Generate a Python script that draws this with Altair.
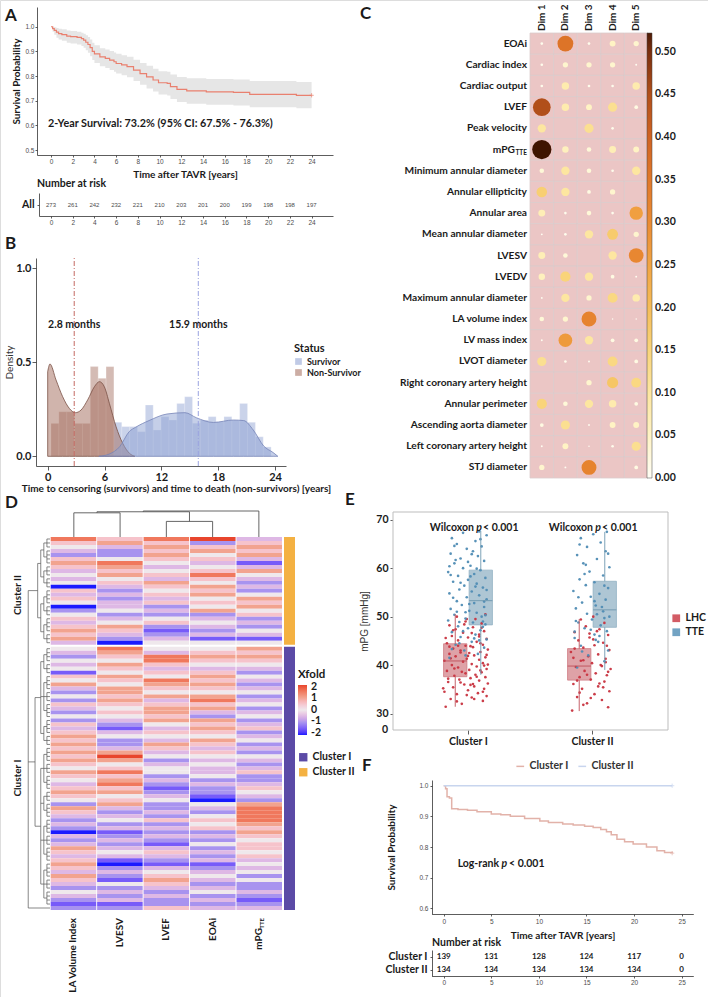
import altair as alt
import pandas as pd

W, H = 708, 997
BOLD = "Lato"
PLAIN = "Liberation Sans"
INK = "#1a1a1a"
GREY = "#4d4d4d"

# ------------------------------------------------------------------ data
# A: overall survival after TAVR (Kaplan-Meier estimate with 95% CI)
A_T = [0, 0.15, 0.3, 0.5, 0.7, 1.0, 1.45, 1.8, 2.4, 2.8, 3.0, 3.2, 3.4, 3.6, 3.8, 4.0, 4.5, 5.0, 5.4,
       5.8, 6.0, 6.5, 7.0, 7.6, 8.2, 8.8, 9.4, 9.9, 10.7, 11.0, 11.6, 12.5, 14.3, 16.8, 18.3, 22.6, 24.0]
A_S = [1.0, 0.992, 0.985, 0.978, 0.972, 0.968, 0.962, 0.96, 0.957, 0.952, 0.946, 0.937, 0.928, 0.915,
       0.90, 0.89, 0.878, 0.872, 0.865, 0.858, 0.851, 0.845, 0.838, 0.824, 0.81, 0.797, 0.784, 0.773,
       0.77, 0.757, 0.746, 0.74, 0.736, 0.734, 0.726, 0.722, 0.722]
A_LO = [1.0, 0.98, 0.968, 0.955, 0.948, 0.943, 0.935, 0.932, 0.928, 0.922, 0.915, 0.905, 0.895, 0.88,
        0.865, 0.853, 0.84, 0.833, 0.825, 0.818, 0.81, 0.803, 0.795, 0.78, 0.765, 0.75, 0.737, 0.725,
        0.721, 0.707, 0.695, 0.688, 0.684, 0.681, 0.674, 0.67, 0.67]
A_HI = [1.0, 1.0, 0.998, 0.995, 0.992, 0.99, 0.985, 0.983, 0.98, 0.976, 0.972, 0.965, 0.958, 0.948,
        0.935, 0.925, 0.913, 0.908, 0.902, 0.896, 0.89, 0.884, 0.878, 0.866, 0.853, 0.842, 0.83, 0.82,
        0.818, 0.806, 0.796, 0.791, 0.788, 0.786, 0.78, 0.776, 0.776]
A_TICKS = [0, 2, 4, 6, 8, 10, 12, 14, 16, 18, 20, 22, 24]
A_RISK = [273, 261, 242, 232, 221, 210, 203, 201, 200, 199, 198, 198, 197]

# B: follow-up time histograms and densities by status
B_STATUS = ["Survivor", "Non-Survivor"]
B_NS_EDGES = [0.35, 1.18, 2.01, 2.84, 3.67, 4.5, 5.33, 6.16, 6.99]
B_NS_H = [0.175, 0.237, 0.237, 0.175, 0.175, 0.477, 0.415, 0.477]
B_S_EDGES = [6.99, 7.82, 8.65, 9.48, 10.31, 11.14, 11.97, 12.8, 13.63, 14.46, 15.29, 16.12, 16.95,
             17.78, 18.61, 19.44, 20.27, 21.1, 21.93, 22.76, 23.59]
B_S_H = [0.181, 0.158, 0.158, 0.131, 0.273, 0.14, 0.211, 0.193, 0.281, 0.317, 0.176, 0.193, 0.211,
         0.184, 0.211, 0.193, 0.281, 0.181, 0.104, 0.05]
B_NS_DT = [0.0, 0.24, 0.88, 1.58, 2.28, 2.92, 3.52, 4.22, 4.93, 5.46, 5.98, 6.51, 7.22, 7.92, 8.63, 9.2]
B_NS_DV = [0.45, 0.491, 0.406, 0.317, 0.255, 0.232, 0.246, 0.30, 0.37, 0.397, 0.37, 0.282, 0.157,
           0.069, 0.016, 0.0]
B_S_DT = [5.4, 6.5, 7.6, 8.6, 9.3, 10.7, 12.6, 14.5, 15.7, 17.5, 19.6, 20.7, 21.7, 22.8, 23.8, 24.3]
B_S_DV = [0.0, 0.012, 0.051, 0.131, 0.155, 0.19, 0.225, 0.232, 0.205, 0.18, 0.193, 0.19, 0.14, 0.055,
          0.02, 0.0]
B_MEDIAN = [2.8, 15.9]
B_MEDIAN_STATUS = ["Non-Survivor", "Survivor"]
B_MEDIAN_LABEL = ["2.8 months", "15.9 months"]

# C: variable contributions to the first five dimensions
C_DIMS = ["Dim 1", "Dim 2", "Dim 3", "Dim 4", "Dim 5"]
C_ROWS = ["EOAi", "Cardiac index", "Cardiac output", "LVEF", "Peak velocity", "mPG_TTE",
          "Minimum annular diameter", "Annular ellipticity", "Annular area", "Mean annular diameter",
          "LVESV", "LVEDV", "Maximum annular diameter", "LA volume index", "LV mass index",
          "LVOT diameter", "Right coronary artery height", "Annular perimeter",
          "Ascending aorta diameter", "Left coronary artery height", "STJ diameter"]
DIM1 = [0.01, 0.01, 0.01, 0.45, 0.10, 0.53, 0.03, 0.16, 0.07, 0.005, 0.07, 0.06, 0.005, 0.03, 0.005,
        0.12, 0.0, 0.15, 0.02, 0.005, 0.04]
DIM2 = [0.36, 0.04, 0.08, 0.08, 0.0, 0.06, 0.10, 0.10, 0.01, 0.01, 0.03, 0.15, 0.10, 0.04, 0.27,
        0.01, 0.0, 0.03, 0.12, 0.05, 0.005]
DIM3 = [0.01, 0.04, 0.01, 0.05, 0.12, 0.03, 0.03, 0.02, 0.03, 0.10, 0.0, 0.10, 0.04, 0.32, 0.10,
        0.005, 0.04, 0.10, 0.005, 0.003, 0.32]
DIM4 = [0.05, 0.04, 0.01, 0.12, 0.01, 0.07, 0.01, 0.04, 0.01, 0.17, 0.10, 0.02, 0.14, 0.003, 0.02,
        0.14, 0.18, 0.08, 0.05, 0.01, 0.0]
DIM5 = [0.04, 0.005, 0.08, 0.02, 0.0, 0.05, 0.10, 0.0, 0.26, 0.04, 0.31, 0.005, 0.08, 0.003, 0.02,
        0.02, 0.14, 0.02, 0.05, 0.12, 0.02]
C_TICKS = [0.0, 0.05, 0.10, 0.15, 0.20, 0.25, 0.30, 0.35, 0.40, 0.45, 0.50]
C_MAX = 0.522

# D: scaled values (Xfold) per patient, ordered by hierarchical clustering
D_COLS = ["LA Volume Index", "LVESV", "LVEF", "EOAi", "mPG_TTE"]
D_CLUSTERS = ["Cluster I", "Cluster II"]
D_LA_II = [1.5, 0.5, 0, -0.5, -1, 0.5, 1, 0.5, -0.5, 0, -0.5, 0, -2, 0.5, -0.5, 0.5, 0, -2, -1, 0,
           0.5, -0.5, 0.5, 1, 0.5, 1, -0.5]
D_LVESV_II = [0.5, 1, -0.5, -1, -1, 0, 1.5, 1, 0.5, 1, 0, 0.5, -0.5, -1, -0.5, -1, -0.5, -0.5, 0, -1,
              -0.5, 0, 1, 0.5, -0.5, -1, -2]
D_LVEF_II = [1.5, 0.5, 1, 0.5, 1, 0.5, 0, -0.5, 0, 0.5, -0.5, 1, 0.5, 0, 0.5, -0.5, 0.5, -1, -0.5, -1,
             0, 0.5, -1, -1.5, -1, -0.5, 0]
D_EOAI_II = [2, -1, 0.5, 1, 0, 0.5, -0.5, 0, 0.5, 1.5, 0.5, 0, 1, 0.5, 1, 0, 0.5, 0, 1, -1, -0.5, 0,
             -0.5, -1, -0.5, -1.5, 0]
D_MPG_II = [-0.5, 0.5, 1, 0.5, 1, -0.5, -1.5, -0.5, 1, 0, -0.5, -1, -0.5, -1, 0, 1, 0.5, 1, 0, 0.5,
            -1, -0.5, -1, 0, -0.5, -1.5, 0]
D_LA_I = [0, -0.5, -1, 0, -0.5, 0, -1.5, 0.5, 0, 1, -0.5, -1, 0, -1, 0.5, -0.5, -1, 0, -1, 0.5, -0.5,
          0.5, 1, 0.5, 1, 0.5, 1, 0.5, 1, 0.5, 0,
          1, 0.5, 0, -0.5, 0.5, 1, 0.5, 0, -1, 1, 0.5, -0.5, -1, -0.5, -1, -2, -0.5, -1, -0.5, 1, 0.5,
          -0.5, 0.5, 1, 0.5, -0.5, 1, 0.5, -0.5, -1, 0, -0.5, -1, -1.5, -1]
D_LVESV_I = [1.5, 1, 0.5, 0, 1, 0.5, 0, 1, 0.5, 0, 1, 1, 0.5, 1, 0.5, 0, 0.5, 0, -0.5, -1, -1.5, -0.5,
             0, -1, -1, -0.5, 1, 2, 1, 0, 0.5,
             1.5, 0.5, 1, 1.5, 0.5, 1, 0, 0.5, 1, -0.5, -1, -0.5, 0, -1, -0.5, -1.5, -1, -0.5, -1, -0.5,
             0, -0.5, -1.5, -2, -1, -0.5, -1, -1.5, 0, -1, -0.5, -1, -0.5, -1.5, -1]
D_LVEF_I = [0, -0.5, 1.5, 1.5, 0.5, -0.5, 0.5, 0, 1.5, 1, 0.5, 0, 1, -0.5, 0.5, 1, 1, 0.5, 1, 0, -0.5,
            0.5, 0, -0.5, 1, 0.5, -0.5, 0, -1, -0.5, 0,
            0, -1, -0.5, -1, -1.5, -1, -0.5, 0, -1, -1, -0.5, -1, 0.5, -1, -0.5, -1, -0.5, -1, -1.5,
            -0.5, 0.5, -0.5, -1, -1.5, -0.5, 0, 0.5, 1, 0.5, -0.5, -1, -0.5, -1, -1, 0.5]
D_EOAI_I = [0, 0.5, 1, 0.5, 0, -0.5, 0.5, 1, 0.5, 1, 0.5, 0, 1, 1.5, 0.5, 1, -0.5, -1, 1, 0.5, 1, 0.5,
            0, 1, 0.5, -0.5, 0.5, 0, -0.5, 0, -0.5,
            -0.5, 0, -1, -0.5, -1, -1, -1.5, -2, 0, -0.5, -1, 0, 0.5, 0, 0.5, -1, -0.5, -1, 0, -1,
            -0.5, -1, -0.5, -1.5, -1, -0.5, 0, -0.5, -1, -0.5, 0, -1, -0.5, -1, -0.5]
D_MPG_I = [1, 0.5, 1, 0.5, 0, -0.5, -1, 0, -0.5, -1, -0.5, 0, -1, -0.5, 0, -1, -0.5, 0, -1, -0.5, 0.5,
           -1, -0.5, 0, -1, -0.5, -1, 0, -0.5, -1, -0.5,
           0.5, -1, -1, -0.5, 0.5, 0, -0.5, -1, 1, 1.5, 1.5, 1.5, 1.5, 1, 0.5, 1, 0.5, 0, 0.5, 0.5, 0,
           0.5, -0.5, 0, -0.5, 0, -1, 0, -1, -1, -0.5, -1, -1.5, -1, -0.5]
D_TICKS = [2, 1, 0, -1, -2]
# column dendrogram: (children, merge height); leaves 0..4 follow D_COLS
D_COL_MERGES = [([2, 3], 0.6), ([0, 1], 0.93), ([6, 5], 0.97), ([7, 4], 1.0)]
# row dendrogram: leaf group sizes per level and merge heights
D_II_LEVELS = [[3, 4, 3, 3, 4, 3, 4, 3], [2, 2, 2, 2], [2, 2], [2]]
D_I_LEVELS = [[4, 3, 4, 3, 4, 4, 3, 4, 3, 4, 3, 4, 4, 3, 4, 4, 3, 4], [2, 3, 2, 3, 2, 3, 3], [3, 4], [2]]
D_II_HEIGHTS = [1.4, 2.8, 4.2, 5.6]
D_I_HEIGHTS = [1.4, 2.8, 4.2, 6.8]
D_ROOT_H = 9.9

# E: mean pressure gradient, catheter (LHC) vs echo (TTE); (jitter, mmHg)
E_CLUSTERS = ["Cluster I", "Cluster II"]
E_GROUPS = ["LHC", "TTE"]
E1_LHC = [(-18, 31.4), (-5, 32.0), (12, 32.6), (-14, 33.0), (3, 33.3), (15, 33.6), (-9, 34.0), (8, 34.2),
          (-19, 34.5), (0, 34.8), (13, 35.1), (-12, 35.4), (5, 35.6), (-3, 36.0), (16, 36.2),
          (-16, 36.5), (9, 36.8), (-7, 37.0), (2, 37.3), (14, 37.5), (-11, 37.8), (6, 38.0), (-2, 38.3),
          (11, 38.5), (-17, 38.8), (1, 39.0), (15, 39.2), (-8, 39.5), (7, 39.7), (-13, 40.0), (3, 40.2),
          (12, 40.4), (-4, 40.7), (-19, 40.9), (9, 41.1), (-1, 41.3), (14, 41.6), (-10, 41.8), (5, 42.0),
          (-15, 42.3), (1, 42.5), (10, 42.7), (-6, 43.0), (16, 43.2), (-12, 43.4), (4, 43.7), (-2, 44.0),
          (12, 44.2), (-17, 44.5), (7, 44.8), (-8, 45.1), (15, 45.4), (0, 45.7), (-13, 46.0), (9, 46.3),
          (-4, 46.7), (13, 47.0), (-10, 47.4), (4, 47.8), (-15, 48.2), (11, 48.6), (-2, 49.0), (6, 49.5),
          (-9, 50.0), (14, 50.5), (-6, 36.4), (10, 38.9), (-14, 41.4), (2, 43.9), (-1, 33.8),
          (-20, 35.2), (4, 36.1), (-11, 39.3), (16, 40.1), (-6, 42.6), (10, 44.5), (-18, 45.6), (3, 46.6),
          (-3, 48.4), (12, 34.5), (-9, 32.5), (7, 37.6), (-15, 43.8), (0, 41.9), (13, 39.9), (-5, 38.6),
          (9, 45.9), (-12, 47.2), (5, 33.0), (-1, 49.5), (15, 42.1), (-8, 44.0), (2, 35.9), (-16, 37.2),
          (11, 47.7)]
E1_TTE = [(-15, 41.5), (8, 42.3), (-3, 43.0), (13, 43.6), (-10, 44.2), (3, 44.8), (15, 45.3), (-6, 45.8),
          (6, 46.3), (-13, 46.8), (10, 47.2), (0, 47.6), (-8, 48.0), (14, 48.4), (4, 48.8), (-16, 49.2),
          (-2, 49.6), (11, 50.0), (-11, 50.4), (7, 50.8), (1, 51.2), (-14, 51.6), (13, 52.0), (-5, 52.4),
          (5, 52.8), (-9, 53.2), (15, 53.6), (-1, 54.0), (9, 54.4), (-15, 54.8), (3, 55.2), (-7, 55.6),
          (12, 56.0), (-3, 56.4), (7, 56.8), (-12, 57.2), (0, 57.6), (14, 58.0), (-8, 58.4), (5, 58.8),
          (-16, 59.2), (10, 59.6), (-4, 60.0), (2, 60.5), (-11, 61.0), (13, 61.5), (-6, 62.0), (8, 62.5),
          (-14, 63.0), (4, 63.5), (-1, 64.0), (11, 64.5), (-9, 65.0), (6, 65.6), (-13, 66.2), (15, 66.8),
          (-4, 67.3), (9, 67.6), (-7, 44.5), (12, 47.9), (-12, 53.9), (2, 58.3), (-10, 61.7), (14, 50.3),
          (-2, 42.0),
          (-13, 43.3), (5, 45.5), (-4, 47.0), (12, 49.0), (-9, 51.0), (1, 52.6), (15, 55.5), (-6, 57.0),
          (7, 59.9), (-15, 60.4), (3, 62.9), (-11, 64.6), (10, 66.0), (-2, 50.9), (13, 53.1), (-7, 48.9),
          (6, 56.2), (-14, 58.6), (0, 61.3), (9, 45.1)]
E2_LHC = [(-16, 30.6), (13, 31.3), (-4, 32.1), (8, 32.8), (-12, 33.4), (2, 34.0), (14, 34.6), (-8, 35.1),
          (5, 35.6), (-15, 36.1), (10, 36.6), (-1, 37.0), (-10, 37.5), (12, 37.9), (3, 38.3), (-6, 38.8),
          (15, 39.2), (-13, 39.6), (7, 40.0), (0, 40.4), (-9, 40.9), (11, 41.3), (-3, 41.8), (5, 42.2),
          (-17, 42.7), (14, 43.1), (-7, 43.6), (2, 44.1), (9, 44.6), (-11, 45.1), (-2, 45.7), (13, 46.2),
          (-14, 46.8), (6, 47.4), (-5, 48.0), (10, 48.7), (-9, 49.4), (1, 50.0), (-12, 36.8), (8, 39.8),
          (-1, 33.2), (12, 44.0), (-15, 41.5), (4, 47.0), (-7, 31.8),
          (-10, 34.3), (6, 36.2), (-4, 38.0), (11, 40.6), (-14, 43.4), (1, 45.3), (9, 35.4), (-7, 41.0),
          (13, 38.6), (-2, 46.5)]
E2_TTE = [(-12, 39.5), (10, 40.8), (-3, 42.0), (13, 43.0), (-9, 44.0), (5, 44.8), (-14, 45.6), (2, 46.3),
          (12, 47.0), (-6, 47.6), (7, 48.2), (-11, 48.8), (0, 49.4), (14, 50.0), (-4, 50.6), (9, 51.1),
          (-13, 51.7), (3, 52.3), (-8, 52.9), (11, 53.5), (-1, 54.1), (6, 54.7), (-15, 55.3), (13, 55.9),
          (-5, 56.5), (2, 57.1), (-10, 57.7), (9, 58.5), (-2, 59.3), (14, 60.2), (-7, 61.0), (4, 61.9),
          (-12, 62.7), (11, 63.5), (-4, 64.4), (7, 65.3), (-9, 66.2), (1, 67.0), (12, 67.5), (-14, 46.9),
          (8, 52.0), (-6, 58.8), (3, 45.2), (-11, 54.0), (10, 49.7),
          (-8, 42.8), (6, 46.0), (-13, 49.1), (2, 53.2), (10, 56.4), (-5, 60.7), (13, 63.0), (-10, 64.9),
          (4, 50.5), (-1, 47.3)]
# box statistics: cluster, group, lower whisker, q1, median, q3, upper whisker
E_BOX = [(1, "LHC", 31.4, 37.6, 40.85, 44.4, 50.5), (1, "TTE", 38.0, 48.3, 53.3, 59.6, 67.7),
         (2, "LHC", 30.5, 36.9, 39.8, 43.4, 49.5), (2, "TTE", 39.0, 47.8, 51.4, 57.3, 67.5)]
E_YTICKS = [30, 40, 50, 60, 70]

# F: survival by cluster
F_T1 = [0, 0.2, 0.35, 0.6, 0.84, 1.5, 2.5, 3.5, 5.0, 6.0, 7.0, 8.5, 10.1, 11.0, 12.5, 13.6, 14.8, 15.7,
        16.5, 17.1, 17.6, 18.2, 19.0, 19.9, 21.3, 22.4, 23.2, 24.0]
F_S1 = [1.0, 0.99, 0.964, 0.96, 0.925, 0.922, 0.92, 0.915, 0.908, 0.905, 0.90, 0.893, 0.885, 0.88,
        0.875, 0.872, 0.868, 0.864, 0.857, 0.85, 0.84, 0.825, 0.817, 0.81, 0.80, 0.788, 0.782, 0.78]
F_T2 = [0, 24.0]
F_S2 = [1.0, 1.0]
F_TICKS = [0, 5, 10, 15, 20, 25]
F_RISK_I = [139, 131, 128, 124, 117, 0]
F_RISK_II = [134, 134, 134, 134, 134, 0]


# ------------------------------------------------------------------ helpers
def lin(lo, hi, r0, r1):
    return alt.Scale(domain=[lo, hi], range=[r0, r1], nice=False, zero=False)


def band(domain, r0, r1, inner=0.0, outer=0.0):
    return alt.Scale(type="band", domain=domain, range=[r0, r1], paddingInner=inner, paddingOuter=outer)


AXIS_BASE = dict(grid=False, labelFlush=False, labelOverlap=False, domainColor="#333333",
                 tickColor="#333333", domainWidth=0.8, tickWidth=0.8)


def left_axis(x_px, **kw):
    opts = dict(AXIS_BASE, orient="left", offset=-x_px)
    opts.update(kw)
    return alt.Axis(**opts)


def bottom_axis(y_px, **kw):
    opts = dict(AXIS_BASE, orient="bottom", offset=y_px - H)
    opts.update(kw)
    return alt.Axis(**opts)


def ticks(size=6.5, color=GREY, font=PLAIN, weight="normal"):
    return dict(labelFont=font, labelFontSize=size, labelColor=color, labelFontWeight=weight)


def titled(text, size=10, font=BOLD, weight="bold", color=INK, pad=4):
    return dict(title=text, titleFont=font, titleFontSize=size, titleFontWeight=weight,
                titleColor=color, titlePadding=pad)


ONE = pd.DataFrame({"k": [0]})


def note(text, x, y, size=10, align="left", angle=0, weight="bold", style="normal", color=INK,
         font=BOLD, baseline="alphabetic"):
    return alt.Chart(ONE).mark_text(
        text=text, align=align, baseline=baseline, angle=angle, fontSize=size, fontWeight=weight,
        fontStyle=style, color=color, font=font).encode(x=alt.value(x), y=alt.value(y))


def legend(x, y, **kw):
    opts = dict(orient="none", legendX=x, legendY=y, labelFont=BOLD, labelFontWeight="bold",
                labelColor=INK, titleFont=BOLD, titleFontWeight="bold", titleColor=INK)
    opts.update(kw)
    return alt.Legend(**opts)


def bar_labels(values, labels, scale, x):
    df = pd.DataFrame({"v": values, "lab": labels})
    return alt.Chart(df).mark_text(align="left", baseline="middle", font=BOLD, fontWeight="bold",
                                   fontSize=10.5, color=INK).encode(
        x=alt.value(x), y=alt.Y("v:Q", scale=scale, axis=None), text="lab:N")


L = []

# ------------------------------------------------------------------ A
AX = lin(-1.29, 25.97, 37, 333)
AY = lin(0.48, 1.08, 155, 7)
a_df = pd.DataFrame({"t": A_T, "s": A_S, "lo": A_LO, "hi": A_HI})
L.append(alt.Chart(a_df).mark_area(interpolate="step-after", color="#e6e6e6").encode(
    x=alt.X("t:Q", scale=AX, axis=bottom_axis(155, values=A_TICKS, tickSize=2, labelPadding=1,
                                              **ticks(), **titled("Time after TAVR [years]", pad=5))),
    y=alt.Y("lo:Q", scale=AY, axis=left_axis(37, values=[0.5, 0.6, 0.7, 0.8, 0.9, 1.0], format=".1f",
                                             tickSize=2, labelPadding=1, **ticks(),
                                             **titled("Survival Probability", pad=3))),
    y2="hi:Q"))
L.append(alt.Chart(a_df).mark_line(interpolate="step-after", color="#e9806f", strokeWidth=1.2).encode(
    x=alt.X("t:Q", scale=AX, axis=None), y=alt.Y("s:Q", scale=AY, axis=None)))
L.append(alt.Chart(a_df.tail(1)).mark_point(shape="M-1,0L1,0M0,-1L0,1", size=18, color="#e9806f",
                                            strokeWidth=1).encode(
    x=alt.X("t:Q", scale=AX, axis=None), y=alt.Y("s:Q", scale=AY, axis=None)))
L.append(note("2-Year Survival: 73.2% (95% CI: 67.5% - 76.3%)", 48, 127, size=10.8))
L.append(note("A", 5, 21, size=17))

# A: number at risk
ATX = lin(-1.105, 25.97, 39, 333)
ATY = alt.Scale(type="point", domain=["All"], range=[193, 216], padding=0.5)
risk_a = pd.DataFrame({"t": A_TICKS, "n": A_RISK, "row": "All"})
L.append(alt.Chart(risk_a).mark_text(font=PLAIN, fontSize=6, color=GREY, baseline="middle").encode(
    x=alt.X("t:Q", scale=ATX, axis=bottom_axis(216, values=A_TICKS, tickSize=2, labelPadding=1,
                                               title=None, **ticks())),
    y=alt.Y("row:N", scale=ATY, axis=left_axis(39, tickSize=2, labelPadding=3, title=None,
                                               **ticks(size=10.5, color=INK, font=BOLD, weight="bold"))),
    text="n:Q"))
L.append(note("Number at risk", 37, 187, size=10.5))

# ------------------------------------------------------------------ B
BXD, BYD = (-1.235, 25.16), (-0.0516, 1.0548)
BX = lin(BXD[0], BXD[1], 36, 286)
BY = lin(BYD[0], BYD[1], 466, 258)
B_FILL = alt.Scale(domain=B_STATUS, range=["#8c9fd2", "#a26a5a"])
B_LINE = alt.Scale(domain=B_STATUS, range=["#7684b8", "#7a5045"])
hist = pd.concat([
    pd.DataFrame({"x0": B_NS_EDGES[:-1], "x1": B_NS_EDGES[1:], "h": B_NS_H, "status": "Non-Survivor"}),
    pd.DataFrame({"x0": B_S_EDGES[:-1], "x1": B_S_EDGES[1:], "h": B_S_H, "status": "Survivor"})])
dens = pd.concat([
    pd.DataFrame({"t": B_NS_DT, "v": B_NS_DV, "status": "Non-Survivor"}),
    pd.DataFrame({"t": B_S_DT, "v": B_S_DV, "status": "Survivor"})])
meds = pd.DataFrame({"m": B_MEDIAN, "status": B_MEDIAN_STATUS, "label": B_MEDIAN_LABEL})

L.append(alt.Chart(hist).mark_rect(opacity=0.45, stroke="white", strokeWidth=0.4, strokeOpacity=0.6).encode(
    x=alt.X("x0:Q", scale=BX, axis=bottom_axis(466, values=[0, 6, 12, 18, 24], tickSize=4, labelPadding=1,
                                               **ticks(size=11, color=INK, font=BOLD, weight="bold"),
                                               **titled("Time to censoring (survivors) and time to death "
                                                        "(non-survivors) [years]", size=10, pad=1),
                                               titleX=176)),
    x2="x1:Q",
    y=alt.Y("h:Q", scale=BY, axis=left_axis(36, values=[0.0, 0.5, 1.0], format=".1f", tickSize=4,
                                            labelPadding=1,
                                            **ticks(size=11, color=INK, font=BOLD, weight="bold"),
                                            **titled("Density", size=10, weight="normal", font=BOLD,
                                                     color="#333333", pad=1))),
    y2=alt.Y2Datum(0),
    color=alt.Color("status:N", scale=B_FILL,
                    legend=legend(294, 343, title="Status", titleFontSize=11, labelFontSize=9,
                                  symbolType="square", symbolSize=45, symbolOpacity=0.55,
                                  symbolStrokeWidth=0, rowPadding=1, titlePadding=3))))
L.append(alt.Chart(dens).mark_area(interpolate="monotone", fillOpacity=0.5, strokeWidth=0.8).encode(
    x=alt.X("t:Q", scale=BX, axis=None), y=alt.Y("v:Q", scale=BY, axis=None), y2=alt.Y2Datum(0),
    fill=alt.Fill("status:N", scale=B_FILL, legend=None),
    stroke=alt.Stroke("status:N", scale=B_LINE, legend=None)))
L.append(alt.Chart(meds).mark_rule(strokeDash=[5, 2, 1, 2], strokeWidth=1).encode(
    x=alt.X("m:Q", scale=BX, axis=None), y=alt.YDatum(BYD[0], scale=BY, axis=None), y2=alt.Y2Datum(BYD[1]),
    color=alt.Color("status:N", scale=alt.Scale(domain=B_STATUS, range=["#9aa2e0", "#c46a62"]),
                    legend=None)))
L.append(alt.Chart(meds).mark_text(font=BOLD, fontWeight="bold", fontSize=10.5, color=INK).encode(
    x=alt.X("m:Q", scale=BX, axis=None), y=alt.value(325), text="label:N"))
L.append(note("B", 5, 249, size=17))

# ------------------------------------------------------------------ C
CX = band(C_DIMS, 530, 648)
CY = band(C_ROWS, 33, 478)
c_rows = []
for dim, vals in zip(C_DIMS, [DIM1, DIM2, DIM3, DIM4, DIM5]):
    for row, v in zip(C_ROWS, vals):
        c_rows.append((row, dim, v))
c_df = pd.DataFrame(c_rows, columns=["row", "dim", "v"])
C_COLOR = alt.Scale(domain=[0, 0.05, 0.10, 0.15, 0.20, 0.25, 0.30, 0.35, 0.40, 0.45, 0.50, C_MAX],
                    range=["#fffef6", "#fff3c4", "#fde6a0", "#f9d47a", "#f5bc58", "#f1a443", "#ea8b33",
                           "#e0782a", "#cf6322", "#b14f1a", "#7a2f0e", "#4e1b06"])
L.append(alt.Chart(c_df).mark_rect(fill="#ebc6c5", stroke="#dbcbcb", strokeWidth=0.8).encode(
    x=alt.X("dim:N", scale=CX, axis=None), y=alt.Y("row:N", scale=CY, axis=None)))
L.append(alt.Chart(c_df).mark_circle(opacity=1).encode(
    x=alt.X("dim:N", scale=CX, axis=None), y=alt.Y("row:N", scale=CY, axis=None),
    size=alt.Size("v:Q", scale=alt.Scale(domain=[0, 0.53], range=[0, 369]), legend=None),
    color=alt.Color("v:Q", scale=C_COLOR,
                    legend=legend(647, 33, direction="vertical", gradientLength=445, gradientThickness=5,
                                  values=C_TICKS, labelExpr="''", title=None,
                                  gradientStrokeColor="#444444", gradientStrokeWidth=0.5))))
# colour-bar labels
L.append(bar_labels(C_TICKS, ["%.2f" % v for v in C_TICKS], lin(0, C_MAX, 478, 33), 655))
c_lab = pd.DataFrame({"row": C_ROWS})
L.append(alt.Chart(c_lab).transform_filter("datum.row != 'mPG_TTE'").mark_text(
    align="right", baseline="middle", font=BOLD, fontWeight="bold", fontSize=10.2, color=INK).encode(
    x=alt.value(527), y=alt.Y("row:N", scale=CY, axis=None), text="row:N"))
c_mpg = pd.DataFrame({"row": ["mPG_TTE"], "main": ["mPG"], "sub": ["TTE"]})
L.append(alt.Chart(c_mpg).mark_text(align="right", baseline="middle", font=BOLD, fontWeight="bold",
                                    fontSize=10.2, color=INK).encode(
    x=alt.value(515), y=alt.Y("row:N", scale=CY, axis=None), text="main:N"))
L.append(alt.Chart(c_mpg).mark_text(align="right", baseline="middle", font=BOLD, fontWeight="bold",
                                    fontSize=6.5, color=INK, dy=3).encode(
    x=alt.value(527), y=alt.Y("row:N", scale=CY, axis=None), text="sub:N"))
L.append(alt.Chart(pd.DataFrame({"dim": C_DIMS})).mark_text(
    angle=270, align="left", baseline="middle", font=BOLD, fontWeight="bold", fontSize=10, color=INK).encode(
    x=alt.X("dim:N", scale=CX, axis=None), y=alt.value(31), text="dim:N"))
L.append(note("C", 360, 19, size=17))

# ------------------------------------------------------------------ D
GAP = 0.5
n2, n1 = len(D_LA_II), len(D_LA_I)
OFF = n2 + GAP
DY = lin(0, OFF + n1, 537, 910)
DX = band(D_COLS, 50.7, 282, inner=0.02)
heat = []
for col, v2, v1 in zip(D_COLS, [D_LA_II, D_LVESV_II, D_LVEF_II, D_EOAI_II, D_MPG_II],
                       [D_LA_I, D_LVESV_I, D_LVEF_I, D_EOAI_I, D_MPG_I]):
    for i, v in enumerate(v2):
        heat.append((col, i, i + 1, v))
    for j, v in enumerate(v1):
        heat.append((col, OFF + j, OFF + j + 1, v))
heat_df = pd.DataFrame(heat, columns=["col", "y0", "y1", "v"])
D_COLOR = alt.Scale(domain=[-2, -1, 0, 1, 2], range=["#1a1aff", "#a893ef", "#efe8ec", "#f2a38f", "#e8452d"])
L.append(alt.Chart(heat_df).mark_rect().encode(
    x=alt.X("col:N", scale=DX, axis=None), y=alt.Y("y0:Q", scale=DY, axis=None), y2="y1:Q",
    color=alt.Color("v:Q", scale=D_COLOR,
                    legend=legend(298, 685, title=None, direction="vertical", gradientLength=50,
                                  gradientThickness=9, values=D_TICKS, labelExpr="''"))))
L.append(note("Xfold", 298, 678, size=11.5))
L.append(bar_labels(D_TICKS, [str(v).replace("\u2212", "-") for v in D_TICKS], lin(-2, 2, 732.7, 686.7), 311))

ann = pd.DataFrame({"cluster": ["Cluster II", "Cluster I"], "y0": [0, OFF], "y1": [n2, OFF + n1]})
L.append(alt.Chart(ann).mark_rect().encode(
    x=alt.XDatum(0, scale=lin(0, 1, 284, 295), axis=None), x2=alt.X2Datum(1),
    y=alt.Y("y0:Q", scale=DY, axis=None), y2="y1:Q",
    color=alt.Color("cluster:N", scale=alt.Scale(domain=D_CLUSTERS, range=["#5b4aa6", "#f4b142"]),
                    legend=legend(298, 752, title=None, labelFontSize=10.5, symbolType="square",
                                  symbolSize=70, symbolStrokeWidth=0, rowPadding=4))))


def tree_segments(leaf_pos, merges):
    nodes = [(p, 0.0) for p in leaf_pos]
    segs = []
    for children, h in merges:
        ps = [nodes[c][0] for c in children]
        for c in children:
            p, hc = nodes[c]
            segs.append((p, p, hc, h))
        segs.append((min(ps), max(ps), h, h))
        nodes.append(((min(ps) + max(ps)) / 2, h))
    return segs


# column dendrogram
col_segs = pd.DataFrame(tree_segments([1, 2, 3, 4, 5], D_COL_MERGES), columns=["p0", "p1", "h0", "h1"])
L.append(alt.Chart(col_segs).mark_rule(color="#555555", strokeWidth=0.9).encode(
    x=alt.X("p0:Q", scale=lin(0.5, 5.5, 50.7, 282), axis=None), x2="p1:Q",
    y=alt.Y("h0:Q", scale=lin(0, 1, 537, 511), axis=None), y2="h1:Q"))

# row dendrogram
leaf_pos = [i + 0.5 for i in range(n2)] + [OFF + j + 0.5 for j in range(n1)]
row_merges = []
next_id = len(leaf_pos)


def add_levels(ids, levels, heights):
    global next_id
    for sizes, h in zip(levels, heights):
        new_ids, k = [], 0
        for s in sizes:
            row_merges.append((ids[k:k + s], h))
            new_ids.append(next_id)
            next_id += 1
            k += s
        ids = new_ids
    return ids[0]


top_ii = add_levels(list(range(n2)), D_II_LEVELS, D_II_HEIGHTS)
top_i = add_levels(list(range(n2, n2 + n1 - 1)), D_I_LEVELS, D_I_HEIGHTS)
row_merges.append(([top_ii, top_i, n2 + n1 - 1], D_ROOT_H))
row_segs = pd.DataFrame(tree_segments(leaf_pos, row_merges), columns=["p0", "p1", "h0", "h1"])
L.append(alt.Chart(row_segs).mark_rule(color="#555555", strokeWidth=0.7).encode(
    x=alt.X("h0:Q", scale=lin(0, 10, 50, 28), axis=None), x2="h1:Q",
    y=alt.Y("p0:Q", scale=DY, axis=None), y2="p1:Q"))

d_lab = pd.DataFrame({"col": D_COLS, "main": ["LA Volume Index", "LVESV", "LVEF", "EOAi", "mPG"]})
L.append(alt.Chart(d_lab).transform_filter("datum.col != 'mPG_TTE'").mark_text(
    angle=270, align="right", baseline="middle", font=BOLD, fontWeight="bold", fontSize=10, color=INK).encode(
    x=alt.X("col:N", scale=DX, axis=None), y=alt.value(918), text="main:N"))
d_mpg = pd.DataFrame({"col": ["mPG_TTE"], "main": ["mPG"], "sub": ["TTE"]})
L.append(alt.Chart(d_mpg).mark_text(angle=270, align="right", baseline="middle", font=BOLD,
                                    fontWeight="bold", fontSize=10, color=INK).encode(
    x=alt.X("col:N", scale=DX, axis=None), y=alt.value(928), text="main:N"))
L.append(alt.Chart(d_mpg).mark_text(angle=270, align="right", baseline="middle", font=BOLD,
                                    fontWeight="bold", fontSize=6, color=INK, dy=3).encode(
    x=alt.X("col:N", scale=DX, axis=None), y=alt.value(918), text="sub:N"))
L.append(note("Cluster II", 18, 595, size=10, angle=270, align="center", baseline="middle"))
L.append(note("Cluster I", 18, 778, size=10, angle=270, align="center", baseline="middle"))
L.append(note("D", 5, 508, size=17))

# ------------------------------------------------------------------ E
EXD, EYD = (0.395, 2.613), (26.6, 71.6)
EX = lin(EXD[0], EXD[1], 393, 668)
EY = lin(EYD[0], EYD[1], 730, 512)
DODGE, HALF = 0.103, 0.094
E_FILL = alt.Scale(domain=E_GROUPS, range=["#d3838a", "#94b3c6"])
E_EDGE = alt.Scale(domain=E_GROUPS, range=["#c0505a", "#6f98b0"])
E_DOT = alt.Scale(domain=E_GROUPS, range=["#c8333f", "#4f8cb4"])

box = pd.DataFrame(E_BOX, columns=["cluster", "group", "lo", "q1", "med", "q3", "hi"])
box["xc"] = box["cluster"] + box["group"].map({"LHC": -DODGE, "TTE": DODGE})
box["xa"] = box["xc"] - HALF
box["xb"] = box["xc"] + HALF

pts = []
for ci, grp, arr in [(1, "LHC", E1_LHC), (1, "TTE", E1_TTE), (2, "LHC", E2_LHC), (2, "TTE", E2_TTE)]:
    for dx, v in arr:
        pts.append((ci + dx / 100.0, v, grp))
pts_df = pd.DataFrame(pts, columns=["x", "v", "group"])

L.append(alt.Chart(ONE).mark_rect(fill="white", stroke="#bdbdbd", strokeWidth=1).encode(
    x=alt.XDatum(EXD[0], scale=EX, axis=bottom_axis(
        730, values=[1, 2], labelExpr="datum.value == 1 ? '%s' : '%s'" % tuple(E_CLUSTERS), domain=False,
        tickSize=4, labelPadding=2, title=None, **ticks(size=10.5, color=INK, font=BOLD, weight="bold"))),
    x2=alt.X2Datum(EXD[1]),
    y=alt.YDatum(EYD[0], scale=EY, axis=left_axis(
        393, values=E_YTICKS, format="d", domain=False, tickSize=3, labelPadding=2,
        **ticks(size=10.5, color=INK, font=BOLD, weight="bold"),
        **titled("mPG [mmHg]", size=10, font=PLAIN, weight="normal", color="#333333", pad=6))),
    y2=alt.Y2Datum(EYD[1])))
# the broken axis starts from zero
L.append(note("0", 388, 733, size=10.5, align="right"))
L.append(alt.Chart(box).mark_rect(opacity=0.75, strokeWidth=0.8).encode(
    x=alt.X("xa:Q", scale=EX, axis=None), x2="xb:Q", y=alt.Y("q1:Q", scale=EY, axis=None), y2="q3:Q",
    fill=alt.Fill("group:N", scale=E_FILL, legend=None),
    stroke=alt.Stroke("group:N", scale=E_EDGE, legend=None)))
L.append(alt.Chart(pts_df).mark_circle(size=7, opacity=0.95).encode(
    x=alt.X("x:Q", scale=EX, axis=None), y=alt.Y("v:Q", scale=EY, axis=None),
    color=alt.Color("group:N", scale=E_DOT,
                    legend=legend(671, 613, title=None, labelFontSize=10.5, symbolType="square",
                                  symbolSize=60, symbolOpacity=0.8, symbolStrokeWidth=0, rowPadding=3))))
for lo_f, hi_f in [("lo", "q1"), ("q3", "hi")]:
    L.append(alt.Chart(box).mark_rule(strokeWidth=0.9).encode(
        x=alt.X("xc:Q", scale=EX, axis=None), y=alt.Y(lo_f + ":Q", scale=EY, axis=None), y2=hi_f + ":Q",
        color=alt.Color("group:N", scale=E_EDGE, legend=None)))
L.append(alt.Chart(box).mark_rule(strokeWidth=0.9).encode(
    x=alt.X("xa:Q", scale=EX, axis=None), x2="xb:Q", y=alt.Y("med:Q", scale=EY, axis=None),
    color=alt.Color("group:N", scale=E_EDGE, legend=None)))
for xp in (479, 598):
    L.append(note("Wilcoxon", xp - 5, 531, size=10.5, align="right"))
    L.append(note("p", xp, 531, size=10.5, align="center", style="italic"))
    L.append(note("< 0.001", xp + 4, 531, size=10.5, align="left"))
L.append(note("E", 345, 505, size=17))

# ------------------------------------------------------------------ F
FX = lin(-1.26, 26.22, 431.7, 693.3)
FY = lin(0.5814, 1.0186, 914, 780)
F_COLOR = alt.Scale(domain=D_CLUSTERS, range=["#e2b2a9", "#c8d5ee"])
km = pd.concat([pd.DataFrame({"t": F_T1, "s": F_S1, "cluster": "Cluster I"}),
                pd.DataFrame({"t": F_T2, "s": F_S2, "cluster": "Cluster II"})])
L.append(alt.Chart(km).mark_line(interpolate="step-after", strokeWidth=1.5).encode(
    x=alt.X("t:Q", scale=FX, axis=bottom_axis(914, values=F_TICKS, tickSize=2, labelPadding=2, **ticks(),
                                              **titled("Time after TAVR [years]", pad=6))),
    y=alt.Y("s:Q", scale=FY, axis=left_axis(432, values=[0.6, 0.7, 0.8, 0.9, 1.0], format=".1f",
                                            tickSize=2, labelPadding=2, **ticks(),
                                            **titled("Survival Probability", pad=22))),
    color=alt.Color("cluster:N", scale=F_COLOR,
                    legend=legend(515, 761, title=None, direction="horizontal", labelFontSize=10.5,
                                  labelColor="#333333", symbolType="stroke", symbolStrokeWidth=1.5,
                                  symbolSize=60, columnPadding=6))))
km_end = km.groupby("cluster", as_index=False).last()
L.append(alt.Chart(km_end).mark_point(shape="M-1,0L1,0M0,-1L0,1", size=18, strokeWidth=1).encode(
    x=alt.X("t:Q", scale=FX, axis=None), y=alt.Y("s:Q", scale=FY, axis=None),
    color=alt.Color("cluster:N", scale=F_COLOR, legend=None)))
L.append(note("Log-rank", 499, 867, size=10.5, align="right"))
L.append(note("p", 501.5, 867, size=10.5, style="italic"))
L.append(note("< 0.001", 509, 867, size=10.5))
L.append(note("F", 362, 771, size=17))

# F: number at risk
risk_f = pd.concat([pd.DataFrame({"t": F_TICKS, "n": F_RISK_I, "row": "Cluster I"}),
                    pd.DataFrame({"t": F_TICKS, "n": F_RISK_II, "row": "Cluster II"})])
FTY = alt.Scale(type="point", domain=D_CLUSTERS, range=[950, 976], padding=0.5)
L.append(alt.Chart(risk_f).mark_text(font=BOLD, fontWeight="bold", fontSize=8, color=INK,
                                     baseline="middle").encode(
    x=alt.X("t:Q", scale=FX, axis=bottom_axis(976, values=F_TICKS, tickSize=2, labelPadding=1,
                                              title=None, **ticks())),
    y=alt.Y("row:N", scale=FTY, axis=left_axis(432, tickSize=2, labelPadding=3, title=None,
                                               **ticks(size=10.5, color=INK, font=BOLD, weight="bold"))),
    text="n:Q"))
L.append(note("Number at risk", 432, 946, size=10.5))

chart = alt.layer(*L).resolve_scale(
    x="independent", y="independent", color="independent", size="independent",
    fill="independent", stroke="independent", opacity="independent"
).resolve_axis(x="independent", y="independent").properties(
    width=W, height=H, padding=0, autosize=alt.AutoSizeParams(type="none")
).configure_view(stroke=None).configure(background="white")

chart.save("out.html", embed_options={"renderer": "svg", "actions": False})
